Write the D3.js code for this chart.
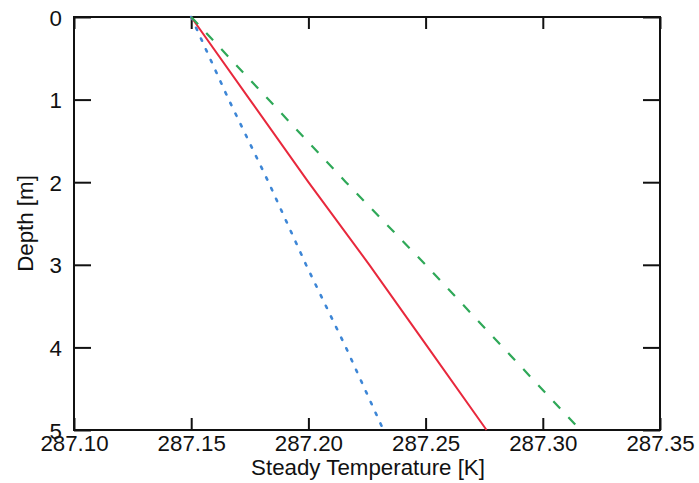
<!DOCTYPE html>
<html>
<head>
<meta charset="utf-8">
<script src="https://cdn.jsdelivr.net/npm/d3@7"></script>
<style>
  html, body { margin: 0; padding: 0; background: #fff; }
  svg { display: block; }
  text { font-family: "Liberation Sans", Arial, Helvetica, sans-serif; fill: #111; }
</style>
</head>
<body>
<svg id="chart" width="699" height="483"></svg>
<script>
// Depth levels (m) and steady temperature profiles (K) for three cases
const depths = [0, 1, 2, 3, 4, 5];
const tempSolid  = [287.150, 287.175, 287.200, 287.226, 287.251, 287.276];
const tempDashed = [287.150, 287.183, 287.216, 287.250, 287.283, 287.316];
const tempDotted = [287.150, 287.166, 287.183, 287.199, 287.216, 287.232];

const xTicks = [287.10, 287.15, 287.20, 287.25, 287.30, 287.35];
const yTicks = [0, 1, 2, 3, 4, 5];

const svg = d3.select("#chart");
const m = { left: 74, right: 39, top: 17, bottom: 53 };
const W = 699, H = 483;

const x = d3.scaleLinear().domain([287.10, 287.35]).range([m.left, W - m.right]);
const y = d3.scaleLinear().domain([0, 5]).range([m.top, H - m.bottom]);

const fmtX = d3.format(".2f");
const fs = 22.3;

// Axes with inward ticks on all four sides
const axisB = d3.axisBottom(x).tickValues(xTicks).tickSize(-12).tickPadding(5.5).tickFormat(fmtX);
const axisT = d3.axisTop(x).tickValues(xTicks).tickSize(-12).tickFormat("");
const axisL = d3.axisLeft(y).tickValues(yTicks).tickSize(-17).tickPadding(12).tickFormat(d3.format("d"));
const axisR = d3.axisRight(y).tickValues(yTicks).tickSize(-17).tickFormat("");

function styleAxis(g) {
  g.select(".domain").remove();
  g.selectAll(".tick line").attr("stroke", "#111").attr("stroke-width", 2);
  g.selectAll(".tick text").attr("font-size", fs).attr("fill", "#111")
    .style("font-family", '"Liberation Sans", Arial, sans-serif');
}

svg.append("g").attr("transform", `translate(0,${y(5)})`).call(axisB).call(styleAxis);
svg.append("g").attr("transform", `translate(0,${y(0)})`).call(axisT).call(styleAxis);
svg.append("g").attr("transform", `translate(${x(287.10)},0)`).call(axisL).call(styleAxis)
  .selectAll(".tick text").attr("dy", "0.36em");
svg.append("g").attr("transform", `translate(${x(287.35)},0)`).call(axisR).call(styleAxis);

// Frame
svg.append("rect")
  .attr("x", x(287.10)).attr("y", y(0))
  .attr("width", x(287.35) - x(287.10)).attr("height", y(5) - y(0))
  .attr("fill", "none").attr("stroke", "#111").attr("stroke-width", 2);

// Profiles
const series = [
  { values: tempDotted, color: "#3d86d6", dash: "2.5,9.3", cap: "round", width: 2.6 },
  { values: tempSolid,  color: "#e8283c", dash: null, cap: "butt", width: 2 },
  { values: tempDashed, color: "#2fa858", dash: "10,12", cap: "butt", width: 2.2 }
];

const line = d3.line().x(d => x(d[0])).y(d => y(d[1]));

series.forEach(s => {
  svg.append("path")
    .datum(depths.map((dz, i) => [s.values[i], dz]))
    .attr("d", line)
    .attr("fill", "none")
    .attr("stroke", s.color)
    .attr("stroke-width", s.width)
    .attr("stroke-linecap", s.cap)
    .attr("stroke-dasharray", s.dash);
});

// Axis titles
svg.append("text")
  .attr("x", (x(287.10) + x(287.35)) / 2 + 1)
  .attr("y", 475)
  .attr("text-anchor", "middle")
  .attr("font-size", fs)
  .text("Steady Temperature [K]");

svg.append("text")
  .attr("transform", `translate(33,${(y(0) + y(5)) / 2}) rotate(-90)`)
  .attr("text-anchor", "middle")
  .attr("font-size", fs)
  .text("Depth [m]");
</script>
</body>
</html>
